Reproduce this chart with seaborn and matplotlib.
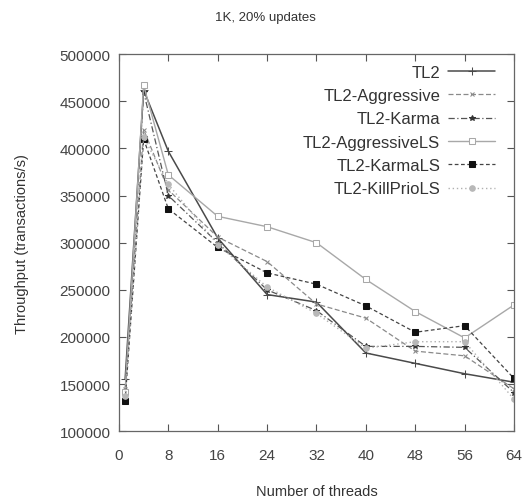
import matplotlib
matplotlib.use("Agg")
import matplotlib.pyplot as plt
import seaborn as sns
import pandas as pd

threads = [1, 4, 8, 16, 24, 32, 40, 48, 56, 64]
tl2 = [155000, 462000, 397000, 305000, 245000, 237000, 183000, 172000, 161000, 152000]
tl2_aggressive = [145000, 420000, 356000, 306000, 280000, 235000, 220000, 185000, 180000, 145000]
tl2_karma = [140000, 460000, 350000, 300000, 250000, 228000, 190000, 190000, 189000, 141000]
tl2_aggressive_ls = [142000, 467000, 372000, 328000, 317000, 300000, 261000, 227000, 199000, 234000]
tl2_karma_ls = [132000, 410000, 336000, 295000, 268000, 256000, 233000, 205000, 212000, 156000]
tl2_killprio_ls = [137000, 412000, 362000, 298000, 253000, 225000, 188000, 195000, 195000, 134000]

series_names = ["TL2", "TL2-Aggressive", "TL2-Karma", "TL2-AggressiveLS", "TL2-KarmaLS", "TL2-KillPrioLS"]
series_values = [tl2, tl2_aggressive, tl2_karma, tl2_aggressive_ls, tl2_karma_ls, tl2_killprio_ls]
x_ticks = [0, 8, 16, 24, 32, 40, 48, 56, 64]
y_ticks = [100000, 150000, 200000, 250000, 300000, 350000, 400000, 450000, 500000]

sns.set_style("ticks")
plt.rcParams['font.family'] = ['Liberation Sans Narrow', 'Liberation Sans', 'DejaVu Sans']

styles = {
    "TL2": dict(color="#4a4a4a", marker="+", ls="-", ms=6, mfc="#4a4a4a", lw=1.1),
    "TL2-Aggressive": dict(color="#8a8a8a", marker="x", ls=(0, (4, 2)), ms=3.5, mfc="#8a8a8a", lw=0.9),
    "TL2-Karma": dict(color="#555555", marker="*", ls=(0, (5, 2, 1, 2)), ms=4, mfc="#333333", lw=0.9),
    "TL2-AggressiveLS": dict(color="#a8a8a8", marker="s", ls="-", ms=5, mfc="white", lw=1.0),
    "TL2-KarmaLS": dict(color="#444444", marker="s", ls=(0, (3, 2)), ms=5, mfc="#111111", lw=0.9),
    "TL2-KillPrioLS": dict(color="#b0b0b0", marker="o", ls=(0, (1, 2)), ms=4, mfc="#b8b8b8", lw=1.0),
}

fig = plt.figure(figsize=(5.31, 5.02), dpi=100)
ax = fig.add_axes([0.224, 0.139, 0.744, 0.751])

for name, vals in zip(series_names, series_values):
    st = styles[name]
    df = pd.DataFrame({"threads": threads, "throughput": vals})
    sns.lineplot(data=df, x="threads", y="throughput", ax=ax, label=name,
                 color=st["color"], marker=st["marker"], linestyle=st["ls"],
                 markersize=st["ms"], markerfacecolor=st["mfc"],
                 markeredgecolor=st["color"] if st["marker"] == "s" and st["mfc"] == "white" else st["mfc"],
                 linewidth=st["lw"])

ax.set_xlim(0, 64)
ax.set_ylim(100000, 500000)
ax.set_xticks(x_ticks)
ax.set_yticks(y_ticks)
ax.set_xticklabels([str(t) for t in x_ticks])
ax.set_yticklabels([str(t) for t in y_ticks])
ax.tick_params(direction="in", top=True, right=True, length=5, width=0.8,
               colors="#555555", labelsize=11, labelcolor="#444444")
ax.tick_params(axis="x", pad=12)
ax.tick_params(axis="y", pad=6)
for sp in ax.spines.values():
    sp.set_visible(True)
    sp.set_color("#666666")
    sp.set_linewidth(0.9)

ax.set_xlabel("Number of threads", fontsize=10.5, color="#333333", labelpad=16)
ax.set_ylabel("Throughput (transactions/s)", fontsize=10.5, color="#333333", labelpad=22)
fig.suptitle("1K, 20% updates", y=0.977, fontsize=9.5, color="#333333")

leg = ax.legend(loc="upper right", bbox_to_anchor=(0.952, 0.972), frameon=False,
                markerfirst=False, fontsize=12, handlelength=2.8, labelspacing=0.5,
                borderaxespad=0.0, handletextpad=0.5, borderpad=0.0)
for t in leg.get_texts():
    t.set_color("#333333")

fig.savefig("out.png", dpi=100)
